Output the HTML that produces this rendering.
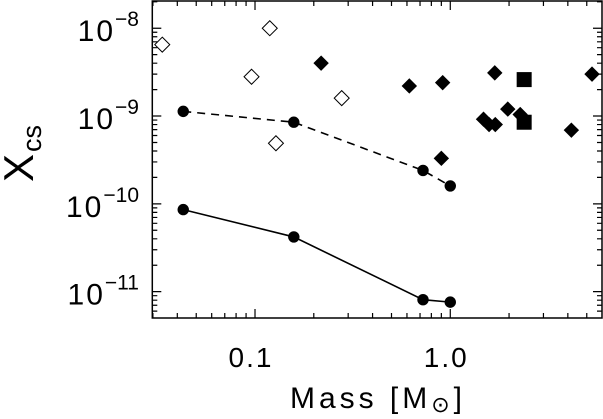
<!DOCTYPE html>
<html><head><meta charset="utf-8"><style>
body{margin:0;background:#fff}
svg{display:block;font-family:"Liberation Sans",sans-serif}
</style></head><body>
<svg id="chart" width="603" height="419" viewBox="0 0 603 419" xmlns="http://www.w3.org/2000/svg">
<g id="axes"></g>
<g id="marks"></g>
<text x="290" y="408" font-size="30" textLength="172" lengthAdjust="spacing">Mass [M<tspan font-size="22" dy="4">⊙</tspan><tspan dy="-4">]</tspan></text>
<text transform="translate(33,182) rotate(-90)" font-size="42">X<tspan font-size="27" dx="2" dy="8">cs</tspan></text>
</svg>
<script>
const xTicks=[0.1,1.0];
const xTickLabels=["0.1","1.0"];
const yTicks=[-8,-9,-10,-11];
const yTickLabels=["−8","−9","−10","−11"];
const solidX=[0.0429,0.158,0.725,1.0];
const solidY=[8.6e-11,4.2e-11,8.1e-12,7.6e-12];
const dashedX=[0.0429,0.158,0.725,1.0];
const dashedY=[1.13e-9,8.5e-10,2.4e-10,1.6e-10];
const openX=[0.0335,0.119,0.096,0.278,0.128];
const openY=[6.5e-9,1.0e-8,2.8e-9,1.6e-9,4.9e-10];
const filledX=[0.218,0.617,0.914,1.69,5.32,1.97,2.28,1.48,1.58,1.70,4.17,0.90];
const filledY=[4.0e-9,2.2e-9,2.4e-9,3.1e-9,3.0e-9,1.2e-9,1.04e-9,9.2e-10,8.0e-10,8.0e-10,6.9e-10,3.3e-10];
const squareX=[2.39,2.39];
const squareY=[2.6e-9,8.5e-10];

const L=152.3,R=602,T=1,B=318;
const xl0=-1.526,xl1=0.777,yl0=-11.30,yl1=-7.69;
const sx=v=>L+(Math.log10(v)-xl0)/(xl1-xl0)*(R-L);
const sy=v=>B-(Math.log10(v)-yl0)/(yl1-yl0)*(B-T);
const NS="http://www.w3.org/2000/svg";
const axes=document.getElementById('axes'),marks=document.getElementById('marks');
function mk(tag,attrs,parent){const e=document.createElementNS(NS,tag);for(const k in attrs)e.setAttribute(k,attrs[k]);parent.appendChild(e);return e;}

let fr=mk('rect',{x:L,y:T,width:R-L,height:B-T,fill:'none',stroke:'#000','stroke-width':1.5},axes);



for(let d=-2;d<=0;d++)for(let m=1;m<=9;m++){
 const v=m*Math.pow(10,d); const x=sx(v); if(x<L||x>R)continue;
 const len=m===1?9:5;
 let t=mk('path',{d:`M${x},${B}V${B-len}M${x},${T}V${T+len}`,stroke:'#000','stroke-width':1.2},axes);
 
 
}
for(let d=-12;d<=-8;d++)for(let m=1;m<=9;m++){
 const v=m*Math.pow(10,d); const y=sy(v); if(y<T||y>B)continue;
 const len=m===1?9:5;
 let t=mk('path',{d:`M${L},${y}H${L+len}M${R},${y}H${R-len}`,stroke:'#000','stroke-width':1.2},axes);
 
 
}
xTicks.forEach((v,i)=>{
 let t=mk('text',{x:sx(v)-4,y:367,'font-size':28,'text-anchor':'middle','letter-spacing':2},axes);
 t.textContent=xTickLabels[i];
 
 
});
yTicks.forEach((p,i)=>{
 const y=sy(Math.pow(10,p));
 let t=mk('text',{x:139,y:y+13,'font-size':30,'text-anchor':'end'},axes);
 t.innerHTML='<tspan letter-spacing="2">10</tspan><tspan font-size="21" dy="-15">'+yTickLabels[i]+'</tspan>';
 
 
});

function line(X,Y,dash,name){
 const d=X.map((v,i)=>(i?'L':'M')+sx(v)+','+sy(Y[i])).join('');
 let p=mk('path',{d:d,fill:'none',stroke:'#000','stroke-width':1.6,'stroke-dasharray':dash},marks);
 
 
 X.forEach((v,i)=>{
  let c=mk('circle',{cx:sx(v),cy:sy(Y[i]),r:5.7,fill:'#000'},marks);
  
  
 });
}
line(solidX,solidY,'none','solid-model-line');
line(dashedX,dashedY,'8,6','dashed-model-line');

function diamond(x,y,h,fill,name){
 let p=mk('path',{d:`M${x},${y-h}L${x+h},${y}L${x},${y+h}L${x-h},${y}Z`,fill:fill,stroke:'#000','stroke-width':1},marks);
 
 
}
openX.forEach((v,i)=>diamond(sx(v),sy(openY[i]),7.5,'#fff','open-diamond'));
filledX.forEach((v,i)=>diamond(sx(v),sy(filledY[i]),7,'#000','filled-diamond'));
squareX.forEach((v,i)=>{
 let s=mk('rect',{x:sx(v)-7.5,y:sy(squareY[i])-7.5,width:15,height:15,fill:'#000'},marks);
 
 
});
</script>
</body></html>
